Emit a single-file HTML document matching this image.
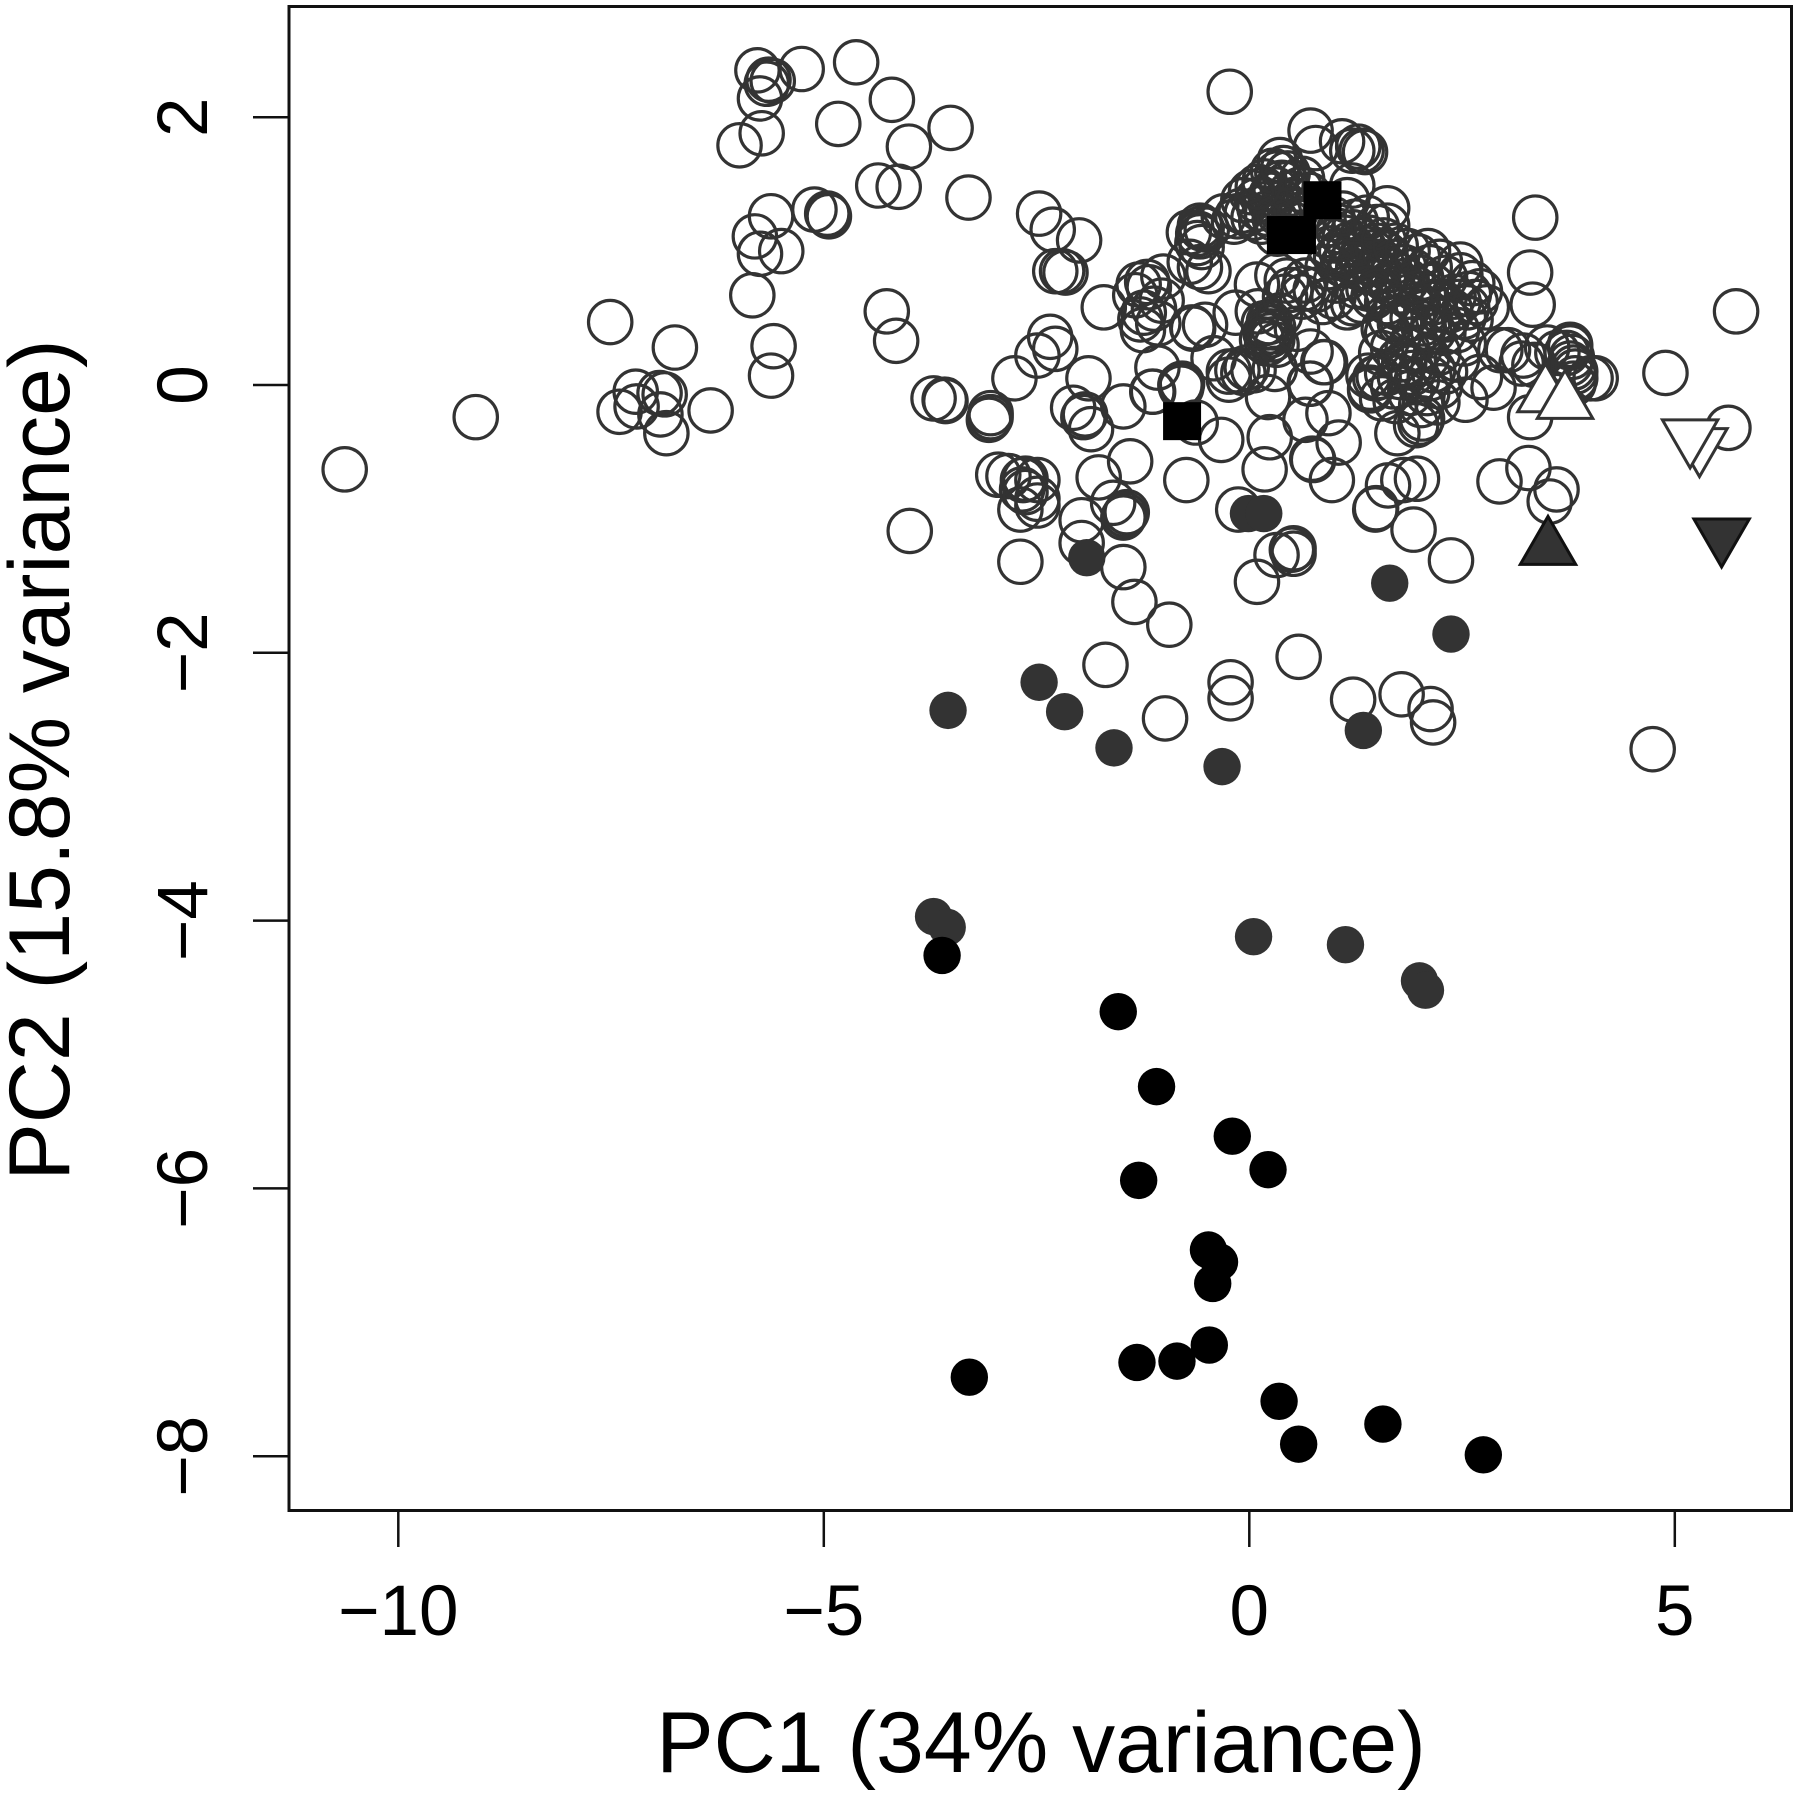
<!DOCTYPE html>
<html lang="en">
<head>
<meta charset="utf-8">
<title>PCA scatter plot</title>
<style>
html,body{margin:0;padding:0;background:#fff;width:1800px;height:1798px;overflow:hidden}
svg{display:block}
text{font-family:"Liberation Sans",Arial,sans-serif;fill:#000}
</style>
</head>
<body>
<svg id="chart" xmlns="http://www.w3.org/2000/svg" width="1800" height="1798" viewBox="0 0 1800 1798">
  <rect x="0" y="0" width="1800" height="1798" fill="#fff"/>
  <g id="marks"></g>
  <rect x="289" y="6.5" width="1502.5" height="1504" fill="none" stroke="#111" stroke-width="3"/>
  <g id="axes"></g>
  <text x="1041" y="1772" font-size="86" text-anchor="middle">PC1 (34% variance)</text>
  <text x="69" y="760" font-size="86" text-anchor="middle" transform="rotate(-90 69 760)">PC2 (15.8% variance)</text>
</svg>
<script>
const xTicks = [-10, -5, 0, 5];
const xTickLabels = ["\u221210", "\u22125", "0", "5"];
const yTicks = [2, 0, -2, -4, -6, -8];
const yTickLabels = ["2", "0", "\u22122", "\u22124", "\u22126", "\u22128"];

const openCircles = [
[-10.63,-0.63],[-9.09,-0.24],[-7.51,0.47],[-6.75,0.28],[-6.33,-0.19],[-7.21,-0.05],[-7.40,-0.20],[-7.20,-0.16],[-6.93,-0.06],[-6.87,-0.07],[-6.92,-0.22],[-6.85,-0.36],
[-5.78,2.35],[-5.26,2.36],[-4.62,2.41],[-4.20,2.13],[-4.83,1.95],[-5.60,2.27],[-5.65,2.28],[-5.67,2.25],[-5.75,2.14],[-5.73,1.88],[-5.99,1.79],[-3.51,1.92],[-4.00,1.78],[-4.36,1.49],[-4.12,1.48],[-3.30,1.40],
[-5.62,1.26],[-5.81,1.11],[-5.50,1.00],[-5.75,0.98],[-5.84,0.67],[-5.11,1.31],[-4.95,1.27],[-4.96,1.28],[-4.94,1.26],[-5.59,0.29],[-5.62,0.07],[-4.26,0.55],[-4.15,0.33],
[-2.47,1.28],[-2.31,1.16],[-2.00,1.08],[-2.28,0.85],[-2.20,0.85],[-2.16,0.84],[-1.71,0.58],[-2.34,0.36],[-2.28,0.27],[-2.49,0.22],[-2.76,0.05],[-1.89,0.05],
[-3.71,-0.10],[-3.58,-0.11],[-3.57,-0.12],[-3.04,-0.21],[-3.04,-0.24],[-3.06,-0.26],[-2.07,-0.17],[-1.93,-0.22],[-1.48,-0.16],[-1.86,-0.33],[-1.95,-0.24],[-1.13,-0.05],[-1.40,-0.57],[-1.77,-0.69],[-0.74,-0.71],
[-2.95,-0.67],[-2.83,-0.68],[-2.63,-0.70],[-2.49,-0.71],[-2.66,-0.71],[-2.67,-0.78],[-2.69,-0.93],[-2.49,-0.85],[-2.63,-0.80],[-3.99,-1.09],[-2.49,-0.90],[-2.69,-1.32],
[-0.23,2.19],[-1.30,0.75],[-1.34,0.67],[-1.20,0.77],[-1.18,0.73],[-1.03,0.63],[-1.24,0.54],[-1.12,0.57],[-1.28,0.49],[-1.07,0.46],[-1.25,0.41],[-1.01,0.81],
[-0.71,1.14],[-0.58,1.19],[-0.56,1.17],[-0.60,1.13],[-0.58,1.11],[-0.61,1.06],[-0.56,1.03],[-0.50,1.16],[-0.48,0.85],[-0.58,0.88],
[-0.14,1.26],[-0.30,1.26],[-0.18,1.22],[-0.03,1.28],[-0.07,1.38],[0.09,1.38],[0.17,1.46],[0.33,1.58],[0.36,1.68],[0.38,1.51],[0.31,1.46],[0.48,1.43],[0.60,1.46],[0.52,1.38],[0.25,1.36],[0.40,1.36],[0.21,1.28],[0.33,1.13],
[0.12,1.32],[0.26,1.42],[0.44,1.50],[0.55,1.30],[0.05,1.25],[-0.10,1.30],[0.35,1.28],[0.46,1.22],
[0.18,1.52],[0.28,1.60],[0.45,1.58],[0.62,1.54],[0.70,1.42],[0.02,1.44],[0.14,1.22],[0.30,1.24],[0.64,1.24],[0.10,1.48],[0.40,1.62],
[0.72,1.90],[0.78,1.77],[1.09,1.82],[1.21,1.75],[1.28,1.78],[1.36,1.74],[1.32,1.75],[1.21,1.49],[1.15,1.38],[1.62,1.32],[1.62,1.19],
[0.90,1.12],[0.95,1.02],[1.00,1.08],[1.02,0.95],[1.05,1.15],[1.08,1.00],[1.10,0.90],[1.12,1.10],[1.15,0.98],[1.18,1.05],[1.20,0.92],[1.22,1.14],[1.25,1.00],[1.28,0.88],[1.30,1.08],[1.33,0.95],[1.35,1.02],[1.38,0.85],[1.40,1.10],[1.42,0.92],[1.45,0.99],[1.48,0.84],[1.50,1.04],[1.55,0.92],[1.58,0.80],[1.60,0.98],[1.65,0.86],[1.68,0.75],[1.70,0.92],[1.75,0.82],[1.78,0.70],[1.82,0.88],[1.85,0.78],[1.88,0.66],[1.92,0.85],[1.95,0.72],[1.98,0.60],[2.02,0.80],[2.05,0.68],[2.08,0.55],[2.12,0.88],[2.15,0.74],[2.18,0.62],[2.22,0.50],
[0.98,1.24],[1.10,1.28],[1.25,1.22],[1.38,1.25],[1.50,1.18],[1.58,1.08],[0.92,0.88],[1.02,0.78],[1.14,0.80],[1.26,0.74],[1.40,0.72],[1.52,0.70],[1.62,0.62],[1.74,0.58],[1.72,1.04],[1.86,1.00],[1.98,0.96],[2.10,1.00],[2.24,0.92],[2.30,0.80],[1.66,0.50],[1.80,0.48],[1.92,0.50],[2.04,0.46],[2.16,0.40],[1.58,0.42],
[2.48,0.90],[2.48,0.82],[2.62,0.76],[2.71,0.70],[2.79,0.58],[2.56,0.58],[2.52,0.51],[2.36,0.56],[2.40,0.66],[2.60,0.49],[2.32,0.49],[2.44,0.41],[2.95,0.26],[2.58,0.68],[2.46,0.62],[2.66,0.62],
[1.74,-0.36],[2.01,-0.28],[1.96,-0.30],[2.03,-0.25],[1.42,-0.02],[1.48,0.05],[1.69,-0.01],[1.62,0.09],[1.89,0.13],[1.97,0.04],[1.77,0.19],[1.69,0.28],[1.93,0.34],[2.09,0.21],[2.16,0.11],[2.24,-0.01],[2.21,-0.13],[2.54,-0.11],[2.87,-0.02],[2.71,0.06],[2.44,0.19],[2.52,0.31],[2.28,0.39],[2.05,0.43],[1.77,0.46],[1.62,0.39],[1.89,-0.06],[1.77,0.06],[2.09,-0.06],[2.12,0.05],[1.92,0.09],[1.82,0.16],
[1.55,0.24],[1.86,0.26],[2.00,0.27],[2.22,0.24],[1.72,-0.12],[2.02,-0.15],[2.30,0.10],[1.56,-0.10],
[0.97,-0.71],[1.05,-0.43],[0.74,-0.55],[0.93,-0.21],[0.87,0.17],[0.72,0.01],[1.97,-0.70],[1.81,-0.71],[1.63,-0.75],[1.49,-0.92],[1.93,-1.08],[2.37,-1.31],[2.94,-0.72],[3.28,-0.62],[3.61,-0.78],[3.53,-0.87],[3.36,1.25],[3.30,0.84],[3.33,0.60],[5.72,0.55],[4.89,0.09],[5.63,-0.32],[3.30,-0.24],
[3.04,0.26],[3.22,0.22],[3.20,0.16],[3.50,0.28],[3.77,0.30],[3.77,0.28],[3.73,0.24],[3.79,0.21],[3.77,0.16],[3.81,0.13],[3.83,0.10],[3.83,0.05],[3.81,0.01],[4.07,0.05],[4.01,0.05],[3.62,0.24],[3.35,0.15],
[0.17,0.46],[0.23,0.47],[0.28,0.43],[0.19,0.39],[0.25,0.40],[0.15,0.34],[0.21,0.31],[0.27,0.34],[0.22,0.43],[0.24,0.37],[0.10,0.55],[0.32,0.30],[0.36,0.52],
[-0.03,0.13],[0.05,0.11],[-0.24,0.10],[-0.14,0.11],[-0.07,0.09],[-0.24,0.04],[-0.16,0.54],[0.09,0.75],[0.33,0.82],[0.44,0.78],[0.66,0.78],[0.48,0.71],[0.64,0.72],[0.42,0.66],[0.62,0.66],[0.78,0.71],[0.99,0.66],[1.22,0.61],[1.32,0.63],[1.15,0.58],[1.46,0.66],
[-0.52,0.45],[-0.70,0.92],[-0.42,0.20],[0.30,0.12],[0.72,0.25],[0.86,0.62],[0.56,0.42],
[-1.08,0.13],[-0.81,0.00],[-0.79,0.01],[-0.80,-0.02],[-0.67,0.43],[-0.66,0.42],[-1.14,-0.05],[-0.63,-0.28],[-0.33,-0.41],[0.22,-0.09],[0.89,0.17],[0.71,0.01],[0.66,-0.26],[0.24,-0.39],[0.75,-0.56],[0.18,-0.63],
[1.42,-0.04],[1.52,0.06],[1.40,0.07],[1.48,-0.93],[0.52,-1.22],[0.50,-1.23],[0.32,-1.27],[0.52,-1.26],[0.09,-1.47],[-0.13,-0.93],
[-1.60,-0.88],[-1.44,-0.95],[-1.46,-0.97],[-1.48,-0.99],[-1.97,-1.01],[-1.97,-1.18],[-1.48,-1.36],[-1.35,-1.62],[-0.94,-1.79],[-1.69,-2.09],[-0.99,-2.49],[-0.22,-2.22],[-0.22,-2.34],[0.58,-2.03],[1.22,-2.35],[1.79,-2.31],[2.13,-2.42],[2.16,-2.52],[4.74,-2.72]
];
const darkCircles = [
[-0.01,-0.96],[0.17,-0.96],[-1.91,-1.29],[1.65,-1.48],[2.37,-1.86],[-2.47,-2.22],[-3.54,-2.43],[-2.17,-2.44],[-1.59,-2.71],[-0.32,-2.85],[1.34,-2.58],[-3.71,-3.97],[-3.55,-4.05],[0.05,-4.12],[1.13,-4.18],[2.00,-4.45],[2.07,-4.52]
];
const blackCircles = [
[-3.61,-4.26],[-1.54,-4.68],[-1.09,-5.24],[-0.20,-5.61],[0.22,-5.86],[-1.30,-5.94],[-0.48,-6.46],[-0.35,-6.55],[-0.43,-6.71],[-3.29,-7.41],[-1.32,-7.30],[-0.85,-7.29],[-0.47,-7.17],[0.35,-7.59],[0.58,-7.91],[1.57,-7.76],[2.75,-7.99]
];
const blackSquares = [[-0.79,-0.27],[0.86,1.38],[0.43,1.12],[0.56,1.12]];
const openUpTriangles = [[3.48,-0.08],[3.71,-0.13]];
const openDownTriangles = [[5.29,-0.445],[5.18,-0.38]];
const darkUpTriangles = [[3.51,-1.22]];
const darkDownTriangles = [[5.55,-1.12]];

const NS = "http://www.w3.org/2000/svg";
const marks = document.getElementById("marks");
const axes = document.getElementById("axes");
function xScale(v){ return 1249.3 + v * 85.1; }
function yScale(v){ return 385 - v * 133.9; }
function make(tag, parent){ const el = document.createElementNS(NS, tag); parent.appendChild(el); return el; }

openCircles.forEach(function(p){
  const el = make("circle", marks);
  el.setAttribute("cx", xScale(p[0]));
  el.setAttribute("cy", yScale(p[1]));
  el.setAttribute("r", 21.7);
  el.setAttribute("fill", "none");
  el.setAttribute("stroke", "#333");
  el.setAttribute("stroke-width", 3.2);
  
  
});
darkCircles.forEach(function(p){
  const el = make("circle", marks);
  el.setAttribute("cx", xScale(p[0]));
  el.setAttribute("cy", yScale(p[1]));
  el.setAttribute("r", 18.7);
  el.setAttribute("fill", "#333");
  
  
});
blackCircles.forEach(function(p){
  const el = make("circle", marks);
  el.setAttribute("cx", xScale(p[0]));
  el.setAttribute("cy", yScale(p[1]));
  el.setAttribute("r", 18.7);
  el.setAttribute("fill", "#000");
  
  
});
blackSquares.forEach(function(p){
  const el = make("rect", marks);
  el.setAttribute("x", xScale(p[0]) - 19);
  el.setAttribute("y", yScale(p[1]) - 19);
  el.setAttribute("width", 38);
  el.setAttribute("height", 38);
  el.setAttribute("fill", "#000");
  
  
});
function trianglePoints(p, dir){
  const cx = xScale(p[0]), cy = yScale(p[1]);
  return [[cx, cy - 32 * dir], [cx - 27.7, cy + 16 * dir], [cx + 27.7, cy + 16 * dir]].map(function(q){ return q.join(","); }).join(" ");
}
openUpTriangles.forEach(function(p){
  const el = make("polygon", marks);
  el.setAttribute("points", trianglePoints(p, 1));
  el.setAttribute("fill", "#fff");
  el.setAttribute("stroke", "#333");
  el.setAttribute("stroke-width", 3);
  
  
});
openDownTriangles.forEach(function(p){
  const el = make("polygon", marks);
  el.setAttribute("points", trianglePoints(p, -1));
  el.setAttribute("fill", "#fff");
  el.setAttribute("stroke", "#333");
  el.setAttribute("stroke-width", 3);
  
  
});
darkUpTriangles.forEach(function(p){
  const el = make("polygon", marks);
  el.setAttribute("points", trianglePoints(p, 1));
  el.setAttribute("fill", "#333");
  el.setAttribute("stroke", "#111");
  el.setAttribute("stroke-width", 3);
  
  
});
darkDownTriangles.forEach(function(p){
  const el = make("polygon", marks);
  el.setAttribute("points", trianglePoints(p, -1));
  el.setAttribute("fill", "#333");
  el.setAttribute("stroke", "#111");
  el.setAttribute("stroke-width", 3);
  
  
});

xTicks.forEach(function(v, i){
  const x = xScale(v);
  const tick = make("line", axes);
  tick.setAttribute("x1", x);
  tick.setAttribute("x2", x);
  tick.setAttribute("y1", 1511);
  tick.setAttribute("y2", 1547);
  tick.setAttribute("stroke", "#111");
  tick.setAttribute("stroke-width", 2.5);
  
  
  const label = make("text", axes);
  label.setAttribute("x", x);
  label.setAttribute("y", 1635);
  label.setAttribute("font-size", 71);
  label.setAttribute("text-anchor", "middle");
  label.textContent = xTickLabels[i];
  
  
});
yTicks.forEach(function(v, i){
  const y = yScale(v);
  const tick = make("line", axes);
  tick.setAttribute("x1", 253);
  tick.setAttribute("x2", 289);
  tick.setAttribute("y1", y);
  tick.setAttribute("y2", y);
  tick.setAttribute("stroke", "#111");
  tick.setAttribute("stroke-width", 2.5);
  
  
  const label = make("text", axes);
  label.setAttribute("x", 207);
  label.setAttribute("y", y);
  label.setAttribute("font-size", 71);
  label.setAttribute("text-anchor", "middle");
  label.setAttribute("transform", "rotate(-90 207 " + y + ")");
  label.textContent = yTickLabels[i];
  
  
});
</script>
</body>
</html>
